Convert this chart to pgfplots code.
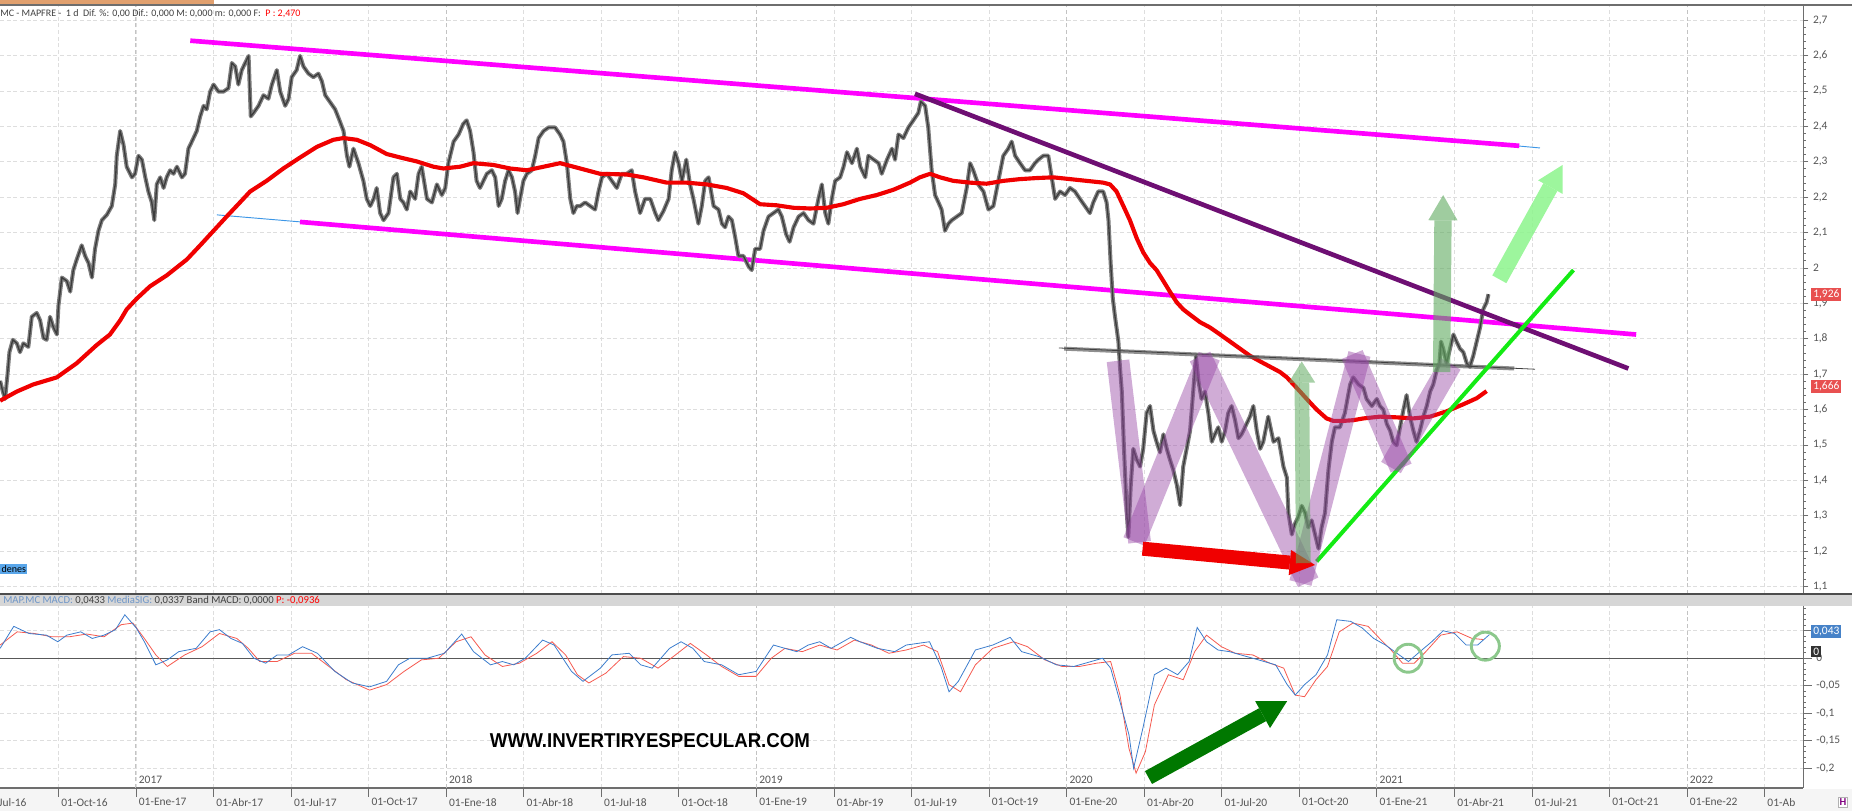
\documentclass[border=0pt]{standalone}
\usepackage{fontspec}
\setmainfont{Carlito}
\newfontfamily\wmfont{Liberation Sans}
\usepackage{pgfplots}
\pgfplotsset{compat=1.18}
\usetikzlibrary{arrows.meta,calc}
\pgfdeclarelayer{background}
\pgfsetlayers{background,main}

\definecolor{priceGray}{RGB}{60,60,60}
\definecolor{candleGray}{RGB}{125,125,125}
\definecolor{maRed}{RGB}{240,0,0}
\definecolor{chanMag}{RGB}{255,0,255}
\definecolor{trendPurple}{RGB}{110,15,115}
\definecolor{neckGray}{RGB}{95,95,95}
\definecolor{supGreen}{RGB}{20,235,20}
\definecolor{wPurple}{RGB}{150,70,165}
\definecolor{arrGreen}{RGB}{95,170,95}
\definecolor{arrLight}{RGB}{140,245,140}
\definecolor{macdGreen}{RGB}{0,120,0}
\definecolor{macdBlue}{RGB}{60,125,205}
\definecolor{sigRed}{RGB}{245,90,80}
\definecolor{circGreen}{RGB}{140,200,140}
\definecolor{gridQ}{RGB}{222,222,222}
\definecolor{gridY}{RGB}{195,195,195}
\definecolor{tickGray}{RGB}{85,85,85}
\definecolor{lineGray}{RGB}{110,110,110}
\definecolor{boxRed}{RGB}{232,80,80}
\definecolor{boxBlue}{RGB}{70,130,200}
\definecolor{barGray}{RGB}{214,214,214}
\definecolor{tabOrange}{RGB}{225,160,110}
\definecolor{chanBlue}{RGB}{60,150,230}
\definecolor{hdrBlue}{RGB}{110,150,200}

\pgfplotsset{
  panel/.style={scale only axis, width=1352.25pt, xmin=2016.5616, xmax=2022.374,
    clip=false, separate axis lines, axis y line*=right, yticklabel pos=right,
    tick align=outside, minor y tick num=4,
    major tick length=4pt, minor tick length=2.2pt,
    tick style={lineGray, line width=0.6pt},
    y axis line style={lineGray, line width=0.75pt},
    ymajorgrids, xmajorgrids,
    major grid style={gridQ, dash pattern=on 3pt off 2pt, line width=0.6pt},
    xtick={2016.75,2017,2017.25,2017.5,2017.75,2018,2018.25,2018.5,2018.75,2019,2019.25,2019.5,
      2019.75,2020,2020.25,2020.5,2020.75,2021,2021.25,2021.5,2021.75,2022,2022.25},
    extra x ticks={2017,2018,2019,2020,2021,2022}, extra x tick labels={},
    extra x tick style={major tick length=0pt,
      major grid style={gridY, dash pattern=on 3pt off 2pt, line width=0.75pt}},
    tick label style={font=\fontsize{8.6}{10}\selectfont, text=tickGray},
    yticklabel style={/pgf/number format/.cd, use comma, fixed, precision=2, assume math mode=true},
  },
}

\pgfplotstableread{
year close
2016.562 1.681
2016.571 1.650
2016.578 1.630
2016.586 1.701
2016.592 1.762
2016.603 1.797
2016.616 1.787
2016.626 1.762
2016.637 1.787
2016.653 1.777
2016.664 1.862
2016.680 1.873
2016.691 1.852
2016.702 1.802
2016.712 1.797
2016.723 1.862
2016.734 1.832
2016.745 1.812
2016.750 1.893
2016.761 1.973
2016.777 1.963
2016.788 1.933
2016.798 1.994
2016.809 2.024
2016.825 2.064
2016.836 2.034
2016.847 2.014
2016.858 1.973
2016.868 2.054
2016.879 2.105
2016.890 2.135
2016.906 2.150
2016.922 2.175
2016.933 2.236
2016.938 2.317
2016.949 2.387
2016.960 2.347
2016.970 2.286
2016.987 2.256
2016.997 2.266
2017.008 2.317
2017.019 2.306
2017.030 2.256
2017.040 2.216
2017.051 2.185
2017.059 2.135
2017.067 2.236
2017.078 2.256
2017.089 2.226
2017.099 2.256
2017.110 2.276
2017.121 2.266
2017.132 2.286
2017.148 2.256
2017.158 2.266
2017.169 2.337
2017.180 2.357
2017.196 2.387
2017.207 2.428
2017.218 2.458
2017.228 2.448
2017.239 2.498
2017.250 2.518
2017.266 2.498
2017.282 2.498
2017.298 2.508
2017.309 2.579
2017.320 2.569
2017.330 2.518
2017.341 2.559
2017.352 2.579
2017.363 2.599
2017.370 2.428
2017.379 2.438
2017.395 2.458
2017.411 2.488
2017.427 2.478
2017.438 2.518
2017.454 2.559
2017.465 2.498
2017.481 2.458
2017.492 2.478
2017.502 2.539
2017.518 2.559
2017.529 2.599
2017.540 2.569
2017.556 2.549
2017.572 2.539
2017.588 2.549
2017.599 2.528
2017.610 2.488
2017.626 2.468
2017.642 2.448
2017.656 2.417
2017.669 2.387
2017.680 2.317
2017.688 2.286
2017.701 2.337
2017.717 2.296
2017.733 2.246
2017.744 2.195
2017.755 2.175
2017.766 2.195
2017.776 2.226
2017.787 2.155
2017.798 2.135
2017.814 2.155
2017.830 2.256
2017.841 2.266
2017.852 2.195
2017.862 2.185
2017.873 2.165
2017.884 2.216
2017.900 2.195
2017.911 2.266
2017.921 2.286
2017.938 2.195
2017.954 2.185
2017.970 2.236
2017.986 2.206
2017.997 2.226
2018.007 2.296
2018.024 2.357
2018.040 2.377
2018.055 2.407
2018.066 2.417
2018.077 2.387
2018.088 2.327
2018.098 2.246
2018.109 2.226
2018.120 2.246
2018.131 2.266
2018.147 2.276
2018.158 2.256
2018.169 2.175
2018.179 2.195
2018.190 2.246
2018.201 2.276
2018.212 2.256
2018.222 2.216
2018.230 2.155
2018.238 2.195
2018.249 2.246
2018.260 2.266
2018.276 2.276
2018.287 2.317
2018.298 2.367
2018.314 2.387
2018.330 2.397
2018.351 2.397
2018.367 2.377
2018.378 2.357
2018.389 2.296
2018.400 2.195
2018.410 2.155
2018.421 2.175
2018.432 2.175
2018.448 2.185
2018.464 2.175
2018.480 2.165
2018.491 2.216
2018.502 2.256
2018.518 2.266
2018.534 2.246
2018.550 2.226
2018.566 2.266
2018.582 2.266
2018.598 2.276
2018.609 2.216
2018.625 2.155
2018.641 2.195
2018.658 2.195
2018.674 2.155
2018.684 2.135
2018.700 2.160
2018.717 2.195
2018.727 2.276
2018.738 2.327
2018.749 2.296
2018.760 2.246
2018.774 2.306
2018.786 2.236
2018.797 2.195
2018.813 2.125
2018.824 2.175
2018.835 2.246
2018.846 2.256
2018.862 2.175
2018.878 2.165
2018.889 2.125
2018.899 2.115
2018.910 2.145
2018.921 2.135
2018.932 2.085
2018.942 2.034
2018.958 2.034
2018.975 2.004
2018.985 1.994
2018.996 2.054
2019.012 2.054
2019.023 2.105
2019.039 2.145
2019.055 2.155
2019.071 2.165
2019.082 2.145
2019.096 2.095
2019.107 2.074
2019.120 2.115
2019.136 2.145
2019.152 2.155
2019.168 2.135
2019.184 2.125
2019.200 2.195
2019.211 2.236
2019.222 2.155
2019.232 2.125
2019.243 2.195
2019.254 2.246
2019.270 2.256
2019.281 2.286
2019.292 2.327
2019.308 2.296
2019.324 2.337
2019.335 2.286
2019.351 2.256
2019.361 2.317
2019.378 2.306
2019.394 2.296
2019.404 2.266
2019.421 2.306
2019.437 2.337
2019.447 2.306
2019.458 2.377
2019.474 2.367
2019.490 2.397
2019.506 2.417
2019.522 2.438
2019.530 2.470
2019.544 2.458
2019.554 2.397
2019.565 2.276
2019.576 2.206
2019.587 2.185
2019.597 2.165
2019.608 2.105
2019.619 2.125
2019.630 2.135
2019.646 2.145
2019.662 2.155
2019.678 2.226
2019.689 2.296
2019.699 2.276
2019.715 2.236
2019.732 2.216
2019.748 2.165
2019.764 2.175
2019.780 2.246
2019.796 2.317
2019.812 2.337
2019.823 2.357
2019.834 2.317
2019.850 2.296
2019.866 2.276
2019.882 2.276
2019.898 2.296
2019.909 2.306
2019.925 2.317
2019.941 2.317
2019.952 2.256
2019.963 2.195
2019.979 2.216
2019.995 2.206
2020.011 2.226
2020.027 2.216
2020.043 2.195
2020.059 2.175
2020.075 2.155
2020.086 2.185
2020.102 2.216
2020.118 2.216
2020.129 2.185
2020.135 2.135
2020.142 2.014
2020.149 1.913
2020.156 1.863
2020.167 1.792
2020.172 1.721
2020.178 1.651
2020.185 1.489
2020.194 1.308
2020.199 1.240
2020.207 1.388
2020.215 1.489
2020.226 1.459
2020.237 1.439
2020.247 1.489
2020.258 1.590
2020.269 1.610
2020.280 1.540
2020.290 1.509
2020.301 1.479
2020.312 1.530
2020.323 1.489
2020.333 1.459
2020.344 1.429
2020.355 1.388
2020.366 1.330
2020.376 1.439
2020.387 1.489
2020.398 1.540
2020.409 1.661
2020.417 1.750
2020.425 1.681
2020.435 1.630
2020.446 1.651
2020.457 1.590
2020.468 1.509
2020.478 1.530
2020.489 1.550
2020.500 1.509
2020.511 1.540
2020.521 1.590
2020.532 1.610
2020.543 1.570
2020.554 1.519
2020.564 1.530
2020.575 1.550
2020.591 1.580
2020.602 1.610
2020.613 1.540
2020.624 1.489
2020.634 1.509
2020.650 1.580
2020.667 1.509
2020.683 1.519
2020.699 1.439
2020.710 1.408
2020.715 1.308
2020.726 1.247
2020.736 1.277
2020.747 1.297
2020.758 1.328
2020.769 1.308
2020.779 1.267
2020.790 1.287
2020.801 1.247
2020.812 1.207
2020.822 1.267
2020.833 1.308
2020.844 1.429
2020.855 1.509
2020.865 1.550
2020.881 1.550
2020.897 1.590
2020.914 1.671
2020.924 1.691
2020.941 1.671
2020.957 1.661
2020.967 1.630
2020.984 1.610
2021.000 1.630
2021.010 1.610
2021.021 1.600
2021.032 1.560
2021.043 1.540
2021.053 1.509
2021.064 1.499
2021.075 1.550
2021.086 1.600
2021.096 1.641
2021.107 1.580
2021.118 1.540
2021.128 1.509
2021.139 1.540
2021.150 1.580
2021.161 1.610
2021.172 1.651
2021.182 1.671
2021.193 1.711
2021.202 1.731
2021.207 1.792
2021.214 1.772
2021.225 1.731
2021.236 1.772
2021.247 1.812
2021.257 1.792
2021.268 1.772
2021.279 1.762
2021.290 1.731
2021.300 1.721
2021.311 1.752
2021.322 1.792
2021.333 1.832
2021.343 1.883
2021.354 1.903
2021.360 1.926
}\pricetable

\begin{document}
\begin{tikzpicture}[x=0.75pt,y=0.75pt]

% ---------- MACD panel
\begin{axis}[panel, name=macd, height=136.5pt,
  ymin=-0.236, ymax=0.095, major tick length=6.5pt,
  axis x line*=bottom, x axis line style={lineGray, line width=0.9pt},
  xticklabels={01-Oct-16,01-Ene-17,01-Abr-17,01-Jul-17,01-Oct-17,01-Ene-18,01-Abr-18,01-Jul-18,
    01-Oct-18,01-Ene-19,01-Abr-19,01-Jul-19,01-Oct-19,01-Ene-20,01-Abr-20,01-Jul-20,01-Oct-20,
    01-Ene-21,01-Abr-21,01-Jul-21,01-Oct-21,01-Ene-22,01-Ab},
  xticklabel style={anchor=north west, inner sep=0pt, xshift=2pt, yshift=-1pt},
  ytick={-0.2,-0.15,-0.1,-0.05,0,0.05,0.1},
  extra y ticks={0}, extra y tick labels={},
  extra y tick style={major tick length=0pt, major grid style={solid, lineGray!80!black, line width=1.1pt}}]

\addplot[sigRed, line width=0.6pt] coordinates {
(2016.562,0.024) (2016.617,0.048) (2016.673,0.045) (2016.729,0.039) (2016.785,0.039) (2016.841,0.044)
(2016.897,0.039) (2016.952,0.061) (2016.990,0.064) (2017.027,0.036) (2017.064,0.006) (2017.101,-0.015)
(2017.157,0.006) (2017.213,0.021) (2017.269,0.045) (2017.325,0.036) (2017.362,0.018) (2017.399,-0.006)
(2017.455,-0.006) (2017.511,0.009) (2017.566,0.009) (2017.622,-0.015) (2017.678,-0.039) (2017.753,-0.058)
(2017.808,-0.048) (2017.864,-0.024) (2017.920,-0.003) (2017.976,0) (2018.032,0.030) (2018.080,0.039)
(2018.125,0.006) (2018.181,-0.015) (2018.236,-0.009) (2018.292,0.009) (2018.341,0.030) (2018.385,0.006)
(2018.423,-0.030) (2018.460,-0.045) (2018.515,-0.027) (2018.571,0.003) (2018.627,0) (2018.683,-0.018)
(2018.739,0.006) (2018.787,0.027) (2018.839,0.006) (2018.888,-0.015) (2018.943,-0.033) (2018.999,-0.033)
(2019.048,0) (2019.092,0.018) (2019.148,0.012) (2019.204,0.024) (2019.260,0.015) (2019.316,0.033)
(2019.371,0.024) (2019.427,0.009) (2019.483,0.015) (2019.539,0.024) (2019.584,0.012) (2019.621,-0.048)
(2019.658,-0.061) (2019.706,-0.012) (2019.762,0.018) (2019.829,0.030) (2019.874,0.021) (2019.930,-0.003)
(2019.985,-0.015) (2020.041,-0.015) (2020.097,-0.009) (2020.142,-0.006) (2020.172,-0.067) (2020.201,-0.164)
(2020.224,-0.209) (2020.254,-0.170) (2020.283,-0.085) (2020.328,-0.030) (2020.376,-0.039) (2020.413,0.012)
(2020.451,0.042) (2020.499,0.021) (2020.544,0.009) (2020.600,0.006) (2020.655,-0.009) (2020.700,-0.018)
(2020.737,-0.067) (2020.767,-0.070) (2020.804,-0.039) (2020.841,-0.015) (2020.879,0.048) (2020.923,0.064)
(2020.972,0.058) (2021.009,0.036) (2021.046,0.015) (2021.083,-0.009) (2021.121,-0.009) (2021.158,0.012)
(2021.206,0.042) (2021.259,0.048) (2021.307,0.036) (2021.344,0.034)};

\addplot[macdBlue, line width=0.6pt] coordinates {
(2016.562,0.018) (2016.606,0.058) (2016.655,0.045) (2016.711,0.042) (2016.748,0.030) (2016.777,0.042)
(2016.822,0.048) (2016.859,0.036) (2016.897,0.042) (2016.934,0.052) (2016.964,0.079) (2017.001,0.055)
(2017.027,0.030) (2017.064,-0.012) (2017.101,-0.003) (2017.138,0.012) (2017.194,0.018) (2017.239,0.048)
(2017.269,0.052) (2017.306,0.036) (2017.343,0.027) (2017.380,0) (2017.418,-0.009) (2017.455,0.006)
(2017.492,0.006) (2017.537,0.021) (2017.585,0.009) (2017.641,-0.024) (2017.697,-0.045) (2017.753,-0.052)
(2017.808,-0.042) (2017.846,-0.012) (2017.883,0) (2017.939,0) (2017.994,0.009) (2018.050,0.044)
(2018.088,0.012) (2018.143,-0.012) (2018.181,-0.006) (2018.218,-0.012) (2018.255,0) (2018.311,0.033)
(2018.348,0.024) (2018.404,-0.024) (2018.441,-0.042) (2018.497,-0.018) (2018.534,0.006) (2018.590,0.009)
(2018.627,-0.012) (2018.664,-0.018) (2018.720,0.018) (2018.757,0.030) (2018.795,0.018) (2018.832,-0.006)
(2018.888,-0.012) (2018.943,-0.030) (2018.999,-0.024) (2019.055,0.024) (2019.092,0.018) (2019.130,0.012)
(2019.167,0.024) (2019.204,0.030) (2019.241,0.018) (2019.304,0.038) (2019.334,0.030) (2019.390,0.018)
(2019.446,0.012) (2019.483,0.024) (2019.520,0.027) (2019.558,0.030) (2019.595,-0.015) (2019.621,-0.061)
(2019.651,-0.042) (2019.706,0.015) (2019.762,0.024) (2019.818,0.038) (2019.855,0.012) (2019.911,0.003)
(2019.967,-0.012) (2020.023,-0.015) (2020.079,-0.006) (2020.116,0) (2020.142,-0.018) (2020.172,-0.079)
(2020.201,-0.139) (2020.216,-0.200) (2020.246,-0.127) (2020.283,-0.030) (2020.320,-0.018) (2020.358,-0.030)
(2020.395,-0.006) (2020.421,0.056) (2020.451,0.030) (2020.488,0.015) (2020.525,0.012) (2020.562,0.006)
(2020.600,0) (2020.637,-0.006) (2020.674,-0.012) (2020.711,-0.048) (2020.737,-0.067) (2020.767,-0.048)
(2020.804,-0.030) (2020.841,0.006) (2020.871,0.070) (2020.916,0.067) (2020.953,0.055) (2020.990,0.036)
(2021.028,0.024) (2021.065,0.009) (2021.102,-0.006) (2021.139,0.012) (2021.177,0.030) (2021.214,0.050)
(2021.251,0.045) (2021.288,0.024) (2021.325,0.024) (2021.363,0.043)};

\addplot[only marks, mark=o, mark size=10.5pt, mark options={draw=circGreen, line width=2.2pt}]
  coordinates {(2021.101,0) (2021.350,0.022)};
\addplot[macdGreen, line width=11pt, -{Triangle[width=23pt,length=21pt,line width=0pt]}]
  coordinates {(2020.264,-0.217) (2020.711,-0.078)};

\node[font=\wmfont\bfseries] at (axis cs:2018.657,-0.150)
  {\resizebox{240pt}{10.5pt}{WWW.INVERTIRYESPECULAR.COM}};

\pgfplotsinvokeforeach{2017,2018,2019,2020,2021,2022}{
  \node[anchor=south west, inner sep=0pt, xshift=2pt, yshift=3pt, font=\fontsize{8.6}{10}\selectfont, text=tickGray]
    at (axis cs:#1,-0.236) {#1};
}
\node[anchor=north west, inner sep=0pt, xshift=2pt, yshift=-7.5pt, font=\fontsize{8.6}{10}\selectfont, text=tickGray]
  at (axis cs:2016.5,-0.236) {01-Jul-16};

\node[fill=boxBlue, text=white, font=\fontsize{8.6}{10}\selectfont, inner sep=1.5pt, anchor=west, xshift=6pt]
  at (axis cs:2022.374,0.048) {0,043};
\node[fill=black!80, text=white, font=\fontsize{8.6}{10}\selectfont, inner sep=1.5pt, anchor=west, xshift=6pt]
  at (axis cs:2022.374,0.012) {0};
\end{axis}

% ---------- price panel
\begin{axis}[panel, name=main, at={(macd.north west)}, anchor=south west, yshift=9pt, height=441pt,
  ymin=1.079, ymax=2.740,
  axis x line*=bottom, x axis line style={draw=none}, xtick style={draw=none}, xticklabels={},
  ytick={1.1,1.2,1.3,1.4,1.5,1.6,1.7,1.8,1.9,2,2.1,2.2,2.3,2.4,2.5,2.6,2.7}]

% channel lines
\addplot[chanBlue, line width=0.7pt] coordinates {(2017.261,2.150) (2021.836,1.812)};
\addplot[chanBlue, line width=0.7pt] coordinates {(2021.40,2.349) (2021.526,2.339)};
\addplot[chanMag, line width=3.5pt] coordinates {(2017.175,2.642) (2021.459,2.345)};
\addplot[chanMag, line width=3.5pt] coordinates {(2017.529,2.130) (2021.836,1.812)};

% price: candle band plus close line
\addplot[candleGray, line width=3pt, line join=round] table[x=year, y=close] {\pricetable};
\addplot[priceGray, line width=1pt, line join=round] table[x=year, y=close] {\pricetable};

% 200-session average
\addplot[maRed, line width=3.1pt, line join=round] coordinates {
(2016.562,1.625) (2016.616,1.651) (2016.669,1.671) (2016.745,1.691) (2016.809,1.731) (2016.873,1.782)
(2016.916,1.812) (2016.949,1.852) (2016.970,1.883) (2017.002,1.913) (2017.045,1.948) (2017.099,1.979)
(2017.164,2.024) (2017.207,2.064) (2017.250,2.105) (2017.292,2.145) (2017.335,2.185) (2017.368,2.216)
(2017.421,2.246) (2017.475,2.281) (2017.529,2.312) (2017.583,2.342) (2017.636,2.362) (2017.669,2.367)
(2017.712,2.362) (2017.755,2.347) (2017.808,2.322) (2017.852,2.312) (2017.905,2.301) (2017.959,2.286)
(2017.991,2.281) (2018.045,2.286) (2018.088,2.296) (2018.152,2.291) (2018.206,2.281) (2018.260,2.276)
(2018.314,2.286) (2018.367,2.296) (2018.389,2.291) (2018.432,2.281) (2018.496,2.266) (2018.582,2.264)
(2018.636,2.256) (2018.711,2.241) (2018.775,2.241) (2018.840,2.236) (2018.904,2.226) (2018.958,2.211)
(2019.012,2.180) (2019.065,2.177) (2019.119,2.170) (2019.173,2.168) (2019.227,2.170) (2019.280,2.180)
(2019.334,2.195) (2019.388,2.206) (2019.442,2.221) (2019.495,2.241) (2019.527,2.256) (2019.560,2.266)
(2019.592,2.256) (2019.635,2.246) (2019.689,2.241) (2019.742,2.238) (2019.796,2.246) (2019.850,2.251)
(2019.904,2.254) (2019.957,2.256) (2020.011,2.251) (2020.065,2.246) (2020.118,2.241) (2020.140,2.236)
(2020.161,2.216) (2020.183,2.175) (2020.204,2.135) (2020.226,2.084) (2020.247,2.044) (2020.269,2.014)
(2020.290,1.994) (2020.312,1.963) (2020.333,1.933) (2020.355,1.903) (2020.376,1.883) (2020.398,1.868)
(2020.430,1.847) (2020.462,1.832) (2020.495,1.812) (2020.527,1.792) (2020.559,1.772) (2020.591,1.752)
(2020.624,1.736) (2020.656,1.721) (2020.688,1.706) (2020.710,1.691) (2020.742,1.661) (2020.774,1.630)
(2020.806,1.600) (2020.838,1.575) (2020.860,1.568) (2020.892,1.568) (2020.924,1.570) (2020.957,1.575)
(2020.989,1.578) (2021.010,1.580) (2021.064,1.578) (2021.118,1.575) (2021.172,1.580) (2021.225,1.595)
(2021.279,1.615) (2021.322,1.632) (2021.354,1.652)};

% trend lines
\addplot[trendPurple, line width=3.5pt] coordinates {(2019.511,2.492) (2021.811,1.716)};
\addplot[neckGray, line width=3pt, opacity=0.7] coordinates {(2019.992,1.772) (2021.443,1.716)};
\addplot[black!75, line width=0.6pt] coordinates {(2019.975,1.774) (2021.510,1.714)};
\addplot[supGreen, line width=3pt] coordinates {(2020.806,1.171) (2021.634,1.994)};

% W pattern
\addplot[wPurple, line width=17pt, opacity=0.45, line cap=rect] coordinates {(2020.170,1.706) (2020.231,1.257)};
\addplot[wPurple, line width=17pt, opacity=0.45, line cap=rect] coordinates {(2020.231,1.257) (2020.446,1.721)};
\addplot[wPurple, line width=17pt, opacity=0.45, line cap=rect] coordinates {(2020.446,1.721) (2020.763,1.141)};
\addplot[wPurple, line width=17pt, opacity=0.45, line cap=rect] coordinates {(2020.763,1.141) (2020.935,1.726)};
\addplot[wPurple, line width=17pt, opacity=0.45, line cap=rect] coordinates {(2020.935,1.726) (2021.064,1.464)};
\addplot[wPurple, line width=17pt, opacity=0.45, line cap=rect] coordinates {(2021.064,1.464) (2021.220,1.701)};

% arrows
\addplot[maRed, line width=10.5pt, -{Triangle[width=19pt,length=19pt,line width=0pt]}]
  coordinates {(2020.245,1.207) (2020.801,1.161)};
\addplot[arrGreen, line width=11pt, opacity=0.55, -{Triangle[width=20pt,length=16pt,line width=0pt]}]
  coordinates {(2020.763,1.166) (2020.758,1.736)};
\addplot[arrGreen, line width=13pt, opacity=0.6, -{Triangle[width=22pt,length=19pt,line width=0pt]}]
  coordinates {(2021.209,1.706) (2021.214,2.206)};
\addplot[arrLight, line width=12pt, opacity=0.85, -{Triangle[width=21pt,length=19pt,line width=0pt]}]
  coordinates {(2021.395,1.968) (2021.599,2.291)};

\node[fill=boxRed, text=white, font=\fontsize{8.6}{10}\selectfont, inner sep=1.5pt, anchor=west, xshift=6pt]
  at (axis cs:2022.374,1.926) {1,926};
\node[fill=boxRed, text=white, font=\fontsize{8.6}{10}\selectfont, inner sep=1.5pt, anchor=west, xshift=6pt]
  at (axis cs:2022.374,1.666) {1,666};
\end{axis}

% ---------- frame, headers (picture origin = 23px below the MACD axis)
\begin{scope}[shift={($(macd.south west)+(0,-23)$)}]
\begin{pgfonlayer}{background}
\fill[gray!8] (0,0) rectangle (1852,22.5);
\end{pgfonlayer}
\fill[tabOrange] (0,807) rectangle (214,811);
\draw[lineGray, line width=1.2pt] (0,806) -- (1852,806);
\node[anchor=west, inner sep=0pt, font=\fontsize{7.5}{9}\selectfont, text=black!75] at (0,797)
  {MC - MAPFRE -\ \ 1 d\ \ Dif. \%: 0,00 Dif.: 0,000 M: 0,000 m: 0,000 F:\ \ \textcolor{red}{P : 2,470}};
\fill[barGray] (0,205) rectangle (1852,217);
\draw[lineGray!70!black, line width=1pt] (0,217) -- (1852,217);
\node[anchor=west, inner sep=0pt, font=\fontsize{8}{9}\selectfont, text=black!75] at (3,211)
  {\textcolor{hdrBlue}{MAP.MC MACD:} 0,0433 \textcolor{hdrBlue}{MediaSIG:} 0,0337 Band MACD: 0,0000 \textcolor{red}{P: -0,0936}};
\node[anchor=west, fill=chanBlue!85, inner sep=1pt, font=\fontsize{7.5}{8}\selectfont] at (0,242) {denes};
\node[draw=gray!60, fill=white, inner sep=1pt, font=\fontsize{8}{9}\selectfont\bfseries, text=violet] at (1843,9) {H};
\pgfresetboundingbox
\path[use as bounding box] (0,0) rectangle (1852,811);
\end{scope}
\end{tikzpicture}
\end{document}
